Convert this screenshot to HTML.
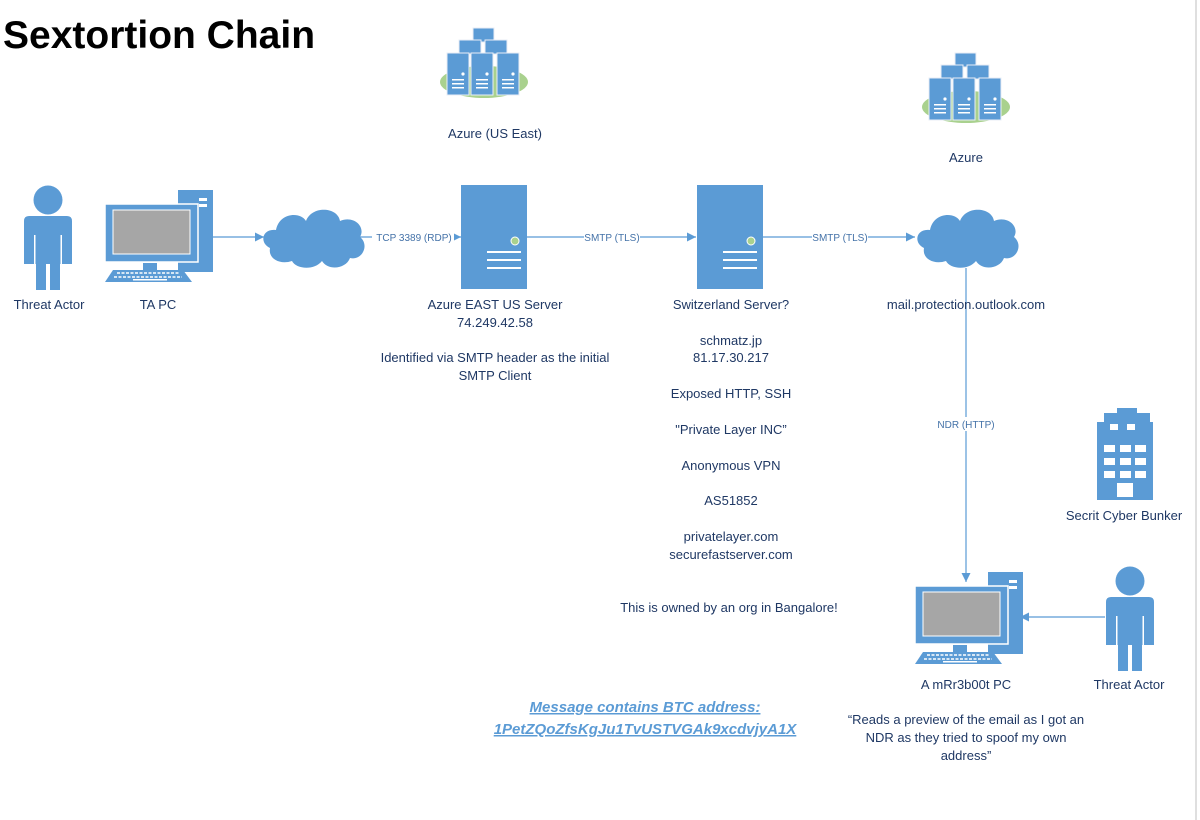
<!DOCTYPE html>
<html><head><meta charset="utf-8"><style>
html,body{margin:0;padding:0;background:#fff;}
svg{display:block;}
text{font-family:"Liberation Sans",sans-serif;fill:#1f3864;font-size:13px;}
.l{font-size:10px;fill:#4472a8;}
</style></head><body>
<svg width="1200" height="820" viewBox="0 0 1200 820">
<defs>
<marker id="ar" viewBox="0 0 10 10" refX="10" refY="5" markerWidth="9" markerHeight="9" orient="auto" markerUnits="userSpaceOnUse"><path d="M0,0L10,5L0,10z" fill="#5b9bd5"/></marker>
<g id="person"><circle cx="26" cy="15" r="14.5" fill="#5b9bd5"/><path d="M2,36 Q2,31 7,31 h38 q5,0 5,5 v43 h-12 v26 h-10 v-26 h-4 v26 h-10 v-26 h-12 z" fill="#5b9bd5"/><rect x="12" y="50" width="1.5" height="29" fill="#fff"/><rect x="38.5" y="50" width="1.5" height="29" fill="#fff"/></g>
<g id="pc"><rect x="73" y="0" width="35" height="82" fill="#5b9bd5"/><rect x="94" y="8" width="8" height="3" fill="#fff"/><rect x="94" y="14" width="8" height="3" fill="#fff"/>
<rect x="0" y="14" width="93" height="58" fill="#5b9bd5" stroke="#fff" stroke-width="1.5"/><rect x="8" y="20" width="77" height="44" fill="#a6a6a6" stroke="#fff" stroke-width="1"/><rect x="38" y="73" width="14" height="7" fill="#5b9bd5"/>
<path d="M8,80h70l9,12h-87z" fill="#5b9bd5"/><path d="M12,83h62M9,87h68" stroke="#fff" stroke-width="1.5" stroke-dasharray="3 1.5"/><rect x="28" y="89" width="34" height="1.5" fill="#fff"/></g>
<g id="server"><rect x="0" y="0" width="66" height="104" fill="#5b9bd5"/><circle cx="54" cy="56" r="4" fill="#a9d18e" stroke="#fff"/><rect x="26" y="66" width="34" height="2" fill="#fff"/><rect x="26" y="74" width="34" height="2" fill="#fff"/><rect x="26" y="82" width="34" height="2" fill="#fff"/></g>
<g id="cloud"><path d="M8,45 C-3,40 0,25 14,27 C17,10 38,8 44,18 C50,2 76,4 78,18 C92,12 104,24 98,34 C108,42 100,58 88,55 C84,66 66,68 60,58 C52,68 34,66 30,58 C18,62 6,56 8,45z" fill="#5b9bd5"/></g>
<g id="box"><rect x="0" y="0" width="22" height="42" fill="#5b9bd5" stroke="#e8eef6" stroke-width="1"/><circle cx="16" cy="21" r="1.6" fill="#fff"/><rect x="5" y="26" width="12" height="1.5" fill="#fff"/><rect x="5" y="30" width="12" height="1.5" fill="#fff"/><rect x="5" y="34" width="12" height="1.5" fill="#fff"/></g>
<g id="cluster"><ellipse cx="44" cy="56" rx="44" ry="16" fill="#a9d18e"/><rect x="33" y="2" width="21" height="14" fill="#5b9bd5" stroke="#e8eef6"/><rect x="19" y="14" width="22" height="14" fill="#5b9bd5" stroke="#e8eef6"/><rect x="45" y="14" width="22" height="14" fill="#5b9bd5" stroke="#e8eef6"/><use href="#box" x="7" y="27"/><use href="#box" x="31" y="27"/><use href="#box" x="57" y="27"/></g>
</defs>
<line x1="1196" y1="0" x2="1196" y2="820" stroke="#bfbfbf"/>
<text x="3" y="48" style="font-size:39px;font-weight:bold;fill:#000">Sextortion Chain</text>
<use href="#cluster" x="440" y="26"/>
<use href="#cluster" x="922" y="51"/>
<text x="495" y="138" text-anchor="middle">Azure (US East)</text>
<text x="966" y="162" text-anchor="middle">Azure</text>
<use href="#person" x="22" y="185"/>
<use href="#pc" x="105" y="190"/>
<use href="#cloud" x="262" y="203"/>
<use href="#server" x="461" y="185"/>
<use href="#server" x="697" y="185"/>
<use href="#cloud" x="916" y="203"/>
<g stroke="#5b9bd5" stroke-width="1.2" fill="none">
<line x1="213" y1="237" x2="264" y2="237" marker-end="url(#ar)"/>
<line x1="360" y1="237" x2="461" y2="237" marker-end="url(#ar)"/>
<line x1="527" y1="237" x2="696" y2="237" marker-end="url(#ar)"/>
<line x1="762" y1="237" x2="915" y2="237" marker-end="url(#ar)"/>
<line x1="966" y1="268" x2="966" y2="582" marker-end="url(#ar)"/>
<line x1="1105" y1="617" x2="1020" y2="617" marker-end="url(#ar)"/>
</g>
<rect x="372" y="230" width="82" height="14" fill="#fff"/><text class="l" x="414" y="241" text-anchor="middle">TCP 3389 (RDP)</text>
<rect x="584" y="230" width="56" height="14" fill="#fff"/><text class="l" x="612" y="241" text-anchor="middle">SMTP (TLS)</text>
<rect x="812" y="230" width="56" height="14" fill="#fff"/><text class="l" x="840" y="241" text-anchor="middle">SMTP (TLS)</text>
<rect x="936" y="417" width="60" height="14" fill="#fff"/><text class="l" x="966" y="428" text-anchor="middle">NDR (HTTP)</text>
<text x="49" y="309" text-anchor="middle">Threat Actor</text>
<text x="158" y="309" text-anchor="middle">TA PC</text>
<text x="495" y="309" text-anchor="middle">Azure EAST US Server</text>
<text x="495" y="327" text-anchor="middle">74.249.42.58</text>
<text x="495" y="362" text-anchor="middle">Identified via SMTP header as the initial</text>
<text x="495" y="380" text-anchor="middle">SMTP Client</text>
<text x="731" y="309" text-anchor="middle">Switzerland Server?</text>
<text x="731" y="345" text-anchor="middle">schmatz.jp</text>
<text x="731" y="362" text-anchor="middle">81.17.30.217</text>
<text x="731" y="398" text-anchor="middle">Exposed HTTP, SSH</text>
<text x="731" y="434" text-anchor="middle">"Private Layer INC”</text>
<text x="731" y="470" text-anchor="middle">Anonymous VPN</text>
<text x="731" y="505" text-anchor="middle">AS51852</text>
<text x="731" y="541" text-anchor="middle">privatelayer.com</text>
<text x="731" y="559" text-anchor="middle">securefastserver.com</text>
<text x="729" y="612" text-anchor="middle">This is owned by an org in Bangalore!</text>
<text x="966" y="309" text-anchor="middle">mail.protection.outlook.com</text>
<g fill="#5b9bd5"><rect x="1117" y="408" width="20" height="5"/><rect x="1104" y="413" width="46" height="9"/><rect x="1097" y="422" width="56" height="78"/></g>
<g fill="#fff"><rect x="1110" y="424" width="8" height="6"/><rect x="1127" y="424" width="8" height="6"/>
<rect x="1104" y="445" width="11" height="7"/><rect x="1120" y="445" width="11" height="7"/><rect x="1135" y="445" width="11" height="7"/>
<rect x="1104" y="458" width="11" height="7"/><rect x="1120" y="458" width="11" height="7"/><rect x="1135" y="458" width="11" height="7"/>
<rect x="1104" y="471" width="11" height="7"/><rect x="1120" y="471" width="11" height="7"/><rect x="1135" y="471" width="11" height="7"/>
<rect x="1117" y="483" width="16" height="14"/></g>
<text x="1124" y="520" text-anchor="middle">Secrit Cyber Bunker</text>
<use href="#pc" x="915" y="572"/>
<use href="#person" x="1104" y="566"/>
<text x="966" y="689" text-anchor="middle">A mRr3b00t PC</text>
<text x="1129" y="689" text-anchor="middle">Threat Actor</text>
<text x="645" y="712" text-anchor="middle" style="font-size:15px;font-weight:bold;font-style:italic;fill:#5b9bd5;text-decoration:underline">Message contains BTC address:</text>
<text x="645" y="734" text-anchor="middle" style="font-size:15px;font-weight:bold;font-style:italic;fill:#5b9bd5;text-decoration:underline">1PetZQoZfsKgJu1TvUSTVGAk9xcdvjyA1X</text>
<text x="966" y="724" text-anchor="middle">“Reads a preview of the email as I got an</text>
<text x="966" y="742" text-anchor="middle">NDR as they tried to spoof my own</text>
<text x="966" y="760" text-anchor="middle">address”</text>
</svg>
</body></html>
